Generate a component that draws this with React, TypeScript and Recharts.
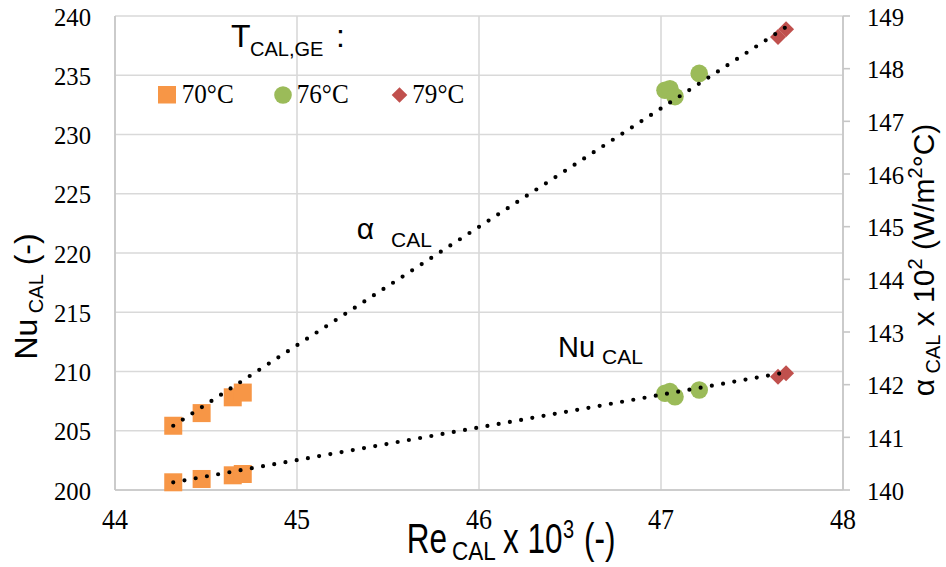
import React from 'react';
import { ComposedChart, Scatter, Line, XAxis, YAxis, CartesianGrid } from 'recharts';

// Re_CAL x 10^3, Nu_CAL and alpha_CAL x 10^2 for each calibration run, grouped by T_CAL,GE
const re70 = [44.32, 44.476, 44.647, 44.702];
const nu70 = [200.65, 200.93, 201.24, 201.35];
const alpha70 = [141.22, 141.46, 141.76, 141.85];

const re76 = [47.022, 47.049, 47.077, 47.21];
const nu76 = [208.16, 208.3, 207.87, 208.44];
const alpha76 = [147.59, 147.62, 147.47, 147.91];

const re79 = [47.643, 47.687];
const nu79 = [209.56, 209.85];
const alpha79 = [148.6, 148.75];

// Trend lines (end points)
const trendRe = [44.32, 47.687];
const trendNu = [200.65, 209.93];
const trendAlpha = [141.22, 148.79];

// Axis ticks
const reTicks = [44, 45, 46, 47, 48];
const nuTicks = [200, 205, 210, 215, 220, 225, 230, 235, 240];
const alphaTicks = [140, 141, 142, 143, 144, 145, 146, 147, 148, 149];

const legendLabels = ['70°C', '76°C', '79°C'];

const nuPoints = (re: number[], nu: number[]) => re.map((r, i) => ({ re: r, nu: nu[i] }));
const alphaPoints = (re: number[], a: number[]) => re.map((r, i) => ({ re: r, alpha: a[i] }));

const ORANGE = '#F79646';
const GREEN = '#9BBB59';
const RED = '#C0504D';
const GRID = '#D9D9D9';
const AXIS = '#C6C6C6';
const SANS = '"Liberation Sans", Arial, sans-serif';
const SERIF = '"Liberation Serif", "Times New Roman", serif';

const Square = (p: any) => <rect x={p.cx - 9} y={p.cy - 9} width={18} height={18} fill={ORANGE} />;
const Round = (p: any) => <circle cx={p.cx} cy={p.cy} r={8.8} fill={GREEN} />;
const Diamond = (p: any) => (
  <path d={`M${p.cx},${p.cy - 8}L${p.cx + 8},${p.cy}L${p.cx},${p.cy + 8}L${p.cx - 8},${p.cy}Z`} fill={RED} />
);

const LeftTick = ({ x, y, payload }: any) => (
  <text x={x} y={y + 9.6} textAnchor="end" fontFamily={SERIF} fontSize={26} textLength={37} lengthAdjust="spacingAndGlyphs" fill="#000">
    {payload.value}
  </text>
);
const RightTick = ({ x, y, payload }: any) => (
  <text x={x} y={y + 9.6} textAnchor="start" fontFamily={SERIF} fontSize={26} textLength={37} lengthAdjust="spacingAndGlyphs" fill="#000">
    {payload.value}
  </text>
);
const BottomTick = ({ x, y, payload }: any) => (
  <text x={x} y={y + 39} textAnchor="middle" fontFamily={SERIF} fontSize={29} textLength={26} lengthAdjust="spacingAndGlyphs" fill="#000">
    {payload.value}
  </text>
);

// Horizontally condensed text piece of the x-axis title
const Narrow = ({ x, y, size, sx, children }: any) => (
  <text transform={`translate(${x},${y}) scale(${sx},1)`} x={0} y={0} fontFamily={SANS} fontSize={size} fill="#000">
    {children}
  </text>
);

const dotted = {
  stroke: '#000',
  strokeWidth: 4.2,
  strokeDasharray: '0 11.4',
  strokeLinecap: 'round' as const,
};

export default function App() {
  const trendNuPts = nuPoints(trendRe, trendNu);
  const trendAlphaPts = alphaPoints(trendRe, trendAlpha);
  return (
    <div style={{ position: 'absolute', left: 0, top: 0, width: 946, height: 567, background: '#fff' }}>
      <ComposedChart width={946} height={567} margin={{ top: 16, right: 0, bottom: 0, left: 0 }}>
        <CartesianGrid stroke={GRID} strokeWidth={1.6} />
        <XAxis
          dataKey="re"
          type="number"
          domain={[44, 48]}
          ticks={reTicks}
          interval={0}
          height={77}
          tickLine={false}
          tickSize={0}
          tickMargin={0}
          axisLine={{ stroke: AXIS, strokeWidth: 1.6 }}
          tick={BottomTick}
        />
        <YAxis
          dataKey="nu"
          type="number"
          domain={[200, 240]}
          ticks={nuTicks}
          interval={0}
          width={115}
          tickLine={false}
          tickSize={0}
          tickMargin={24}
          axisLine={{ stroke: AXIS, strokeWidth: 1.6 }}
          tick={LeftTick}
        />
        <YAxis
          yAxisId="alpha"
          orientation="right"
          dataKey="alpha"
          type="number"
          domain={[140, 149]}
          ticks={alphaTicks}
          interval={0}
          width={103}
          tickLine={{ stroke: AXIS, strokeWidth: 1.6 }}
          tickSize={7}
          tickMargin={17}
          axisLine={{ stroke: AXIS, strokeWidth: 1.6 }}
          tick={RightTick}
        />
        <Scatter data={nuPoints(re70, nu70)} shape={Square} isAnimationActive={false} />
        <Scatter data={nuPoints(re76, nu76)} shape={Round} isAnimationActive={false} />
        <Scatter data={nuPoints(re79, nu79)} shape={Diamond} isAnimationActive={false} />
        <Scatter yAxisId="alpha" data={alphaPoints(re70, alpha70)} shape={Square} isAnimationActive={false} />
        <Scatter yAxisId="alpha" data={alphaPoints(re76, alpha76)} shape={Round} isAnimationActive={false} />
        <Scatter yAxisId="alpha" data={alphaPoints(re79, alpha79)} shape={Diamond} isAnimationActive={false} />
        <Line data={trendNuPts} dataKey="nu" type="linear" dot={false} activeDot={false} isAnimationActive={false} zIndex={700} {...dotted} />
        <Line yAxisId="alpha" data={trendAlphaPts} dataKey="alpha" type="linear" dot={false} activeDot={false} isAnimationActive={false} zIndex={700} {...dotted} />
      </ComposedChart>

      <svg width={946} height={567} style={{ position: 'absolute', left: 0, top: 0, pointerEvents: 'none' }}>
        {/* legend */}
        <text x={231} y={47} fontFamily={SANS} fontSize={32} fill="#000">T</text>
        <text x={250} y={56} fontFamily={SANS} fontSize={20} fill="#000">CAL,GE</text>
        <text x={336} y={47} fontFamily={SANS} fontSize={32} fill="#000">:</text>

        <rect x={158} y={86} width={18} height={17.5} fill={ORANGE} />
        <text x={181.7} y={103.3} fontFamily={SERIF} fontSize={27} textLength={52} lengthAdjust="spacingAndGlyphs" fill="#000">{legendLabels[0]}</text>
        <circle cx={283} cy={95} r={8.8} fill={GREEN} />
        <text x={296.7} y={103.3} fontFamily={SERIF} fontSize={27} textLength={52} lengthAdjust="spacingAndGlyphs" fill="#000">{legendLabels[1]}</text>
        <path d="M399.5,87.2L407.3,95L399.5,102.8L391.7,95Z" fill={RED} />
        <text x={412.3} y={103.3} fontFamily={SERIF} fontSize={27} textLength={52} lengthAdjust="spacingAndGlyphs" fill="#000">{legendLabels[2]}</text>

        {/* curve annotations */}
        <text x={374} y={239} textAnchor="end" fontFamily={SANS} fontSize={30} fill="#000">α</text>
        <text x={391} y={247} fontFamily={SANS} fontSize={21} fill="#000">CAL</text>
        <text x={558} y={357} fontFamily={SANS} fontSize={29} fill="#000">Nu</text>
        <text x={602} y={363.5} fontFamily={SANS} fontSize={21} fill="#000">CAL</text>

        {/* axis titles */}
        <text transform="translate(37,296.5) rotate(-90)" textAnchor="middle" fontFamily={SANS} fontSize={32} fill="#000">
          Nu<tspan fontSize={20} dy={6}> CAL</tspan><tspan dy={-6} fontSize={32}> (-)</tspan>
        </text>
        <text transform="translate(934,260) rotate(-90)" textAnchor="middle" fontFamily={SANS} fontSize={30} fill="#000">
          α<tspan fontSize={20} dy={6}> CAL</tspan>
          <tspan dy={-6} fontSize={30}> x 10</tspan>
          <tspan dy={-12} fontSize={20}>2</tspan>
          <tspan dy={12} fontSize={30}> (W/m</tspan>
          <tspan dy={-12} fontSize={20}>2</tspan>
          <tspan dy={12} fontSize={30}>°C)</tspan>
        </text>
        <Narrow x={406.7} y={553} size={42} sx={0.75}>Re</Narrow>
        <Narrow x={452} y={560} size={25} sx={0.9}>CAL</Narrow>
        <Narrow x={503} y={553} size={42} sx={0.75}>x 10</Narrow>
        <Narrow x={563} y={538} size={25} sx={0.8}>3</Narrow>
        <Narrow x={584} y={553} size={42} sx={0.75}>(-)</Narrow>
      </svg>
    </div>
  );
}
